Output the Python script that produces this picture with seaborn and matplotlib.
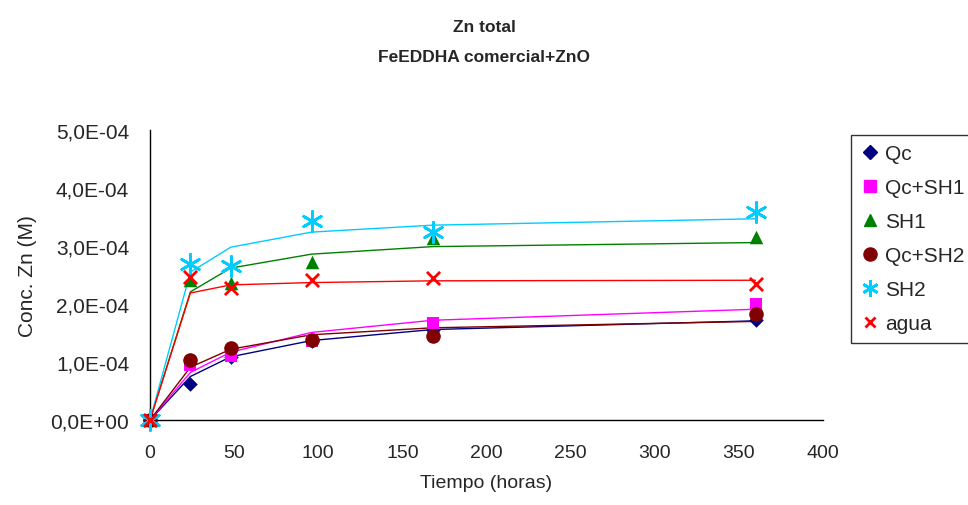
import matplotlib
matplotlib.use("Agg")
import matplotlib.pyplot as plt
from matplotlib.lines import Line2D
from matplotlib.ticker import FuncFormatter, MultipleLocator
import seaborn as sns
import numpy as np

# ---- data ----
series = ["Qc", "Qc+SH1", "SH1", "Qc+SH2", "SH2", "agua"]
hours = [0, 24, 48, 96, 168, 360]

# measured points
pts_qc     = [0, 0.62e-4, 1.08e-4, 1.36e-4, 1.55e-4, 1.72e-4]
pts_qcsh1  = [0, 0.94e-4, 1.10e-4, 1.37e-4, 1.67e-4, 2.00e-4]
pts_sh1    = [0, 2.42e-4, 2.36e-4, 2.73e-4, 3.14e-4, 3.15e-4]
pts_qcsh2  = [0, 1.04e-4, 1.24e-4, 1.38e-4, 1.45e-4, 1.83e-4]
pts_sh2    = [0, 2.69e-4, 2.66e-4, 3.43e-4, 3.24e-4, 3.58e-4]
pts_agua   = [0, 2.46e-4, 2.28e-4, 2.42e-4, 2.45e-4, 2.34e-4]

# fitted curves
fit_qc     = [0, 0.75e-4, 1.09e-4, 1.37e-4, 1.56e-4, 1.71e-4]
fit_qcsh1  = [0, 0.82e-4, 1.17e-4, 1.51e-4, 1.72e-4, 1.91e-4]
fit_sh1    = [0, 2.21e-4, 2.62e-4, 2.86e-4, 2.99e-4, 3.06e-4]
fit_qcsh2  = [0, 0.91e-4, 1.22e-4, 1.47e-4, 1.59e-4, 1.70e-4]
fit_sh2    = [0, 2.55e-4, 2.98e-4, 3.24e-4, 3.36e-4, 3.47e-4]
fit_agua   = [0, 2.19e-4, 2.33e-4, 2.37e-4, 2.40e-4, 2.41e-4]

points = [pts_qc, pts_qcsh1, pts_sh1, pts_qcsh2, pts_sh2, pts_agua]
fits = [fit_qc, fit_qcsh1, fit_sh1, fit_qcsh2, fit_sh2, fit_agua]

colors = ["#000080", "#FF00FF", "#008000", "#800000", "#00CCFF", "#FF0000"]
markers = ["D", "s", "^", "o", (6, 2, 0), "x"]
sizes = [55, 80, 95, 110, 210, 90]

sns.set_style("white")
plt.rcParams["font.family"] = ["Liberation Sans", "DejaVu Sans"]

fig = plt.figure(figsize=(9.68, 5.06), dpi=100)
ax = fig.add_axes([0.155, 0.168, 0.695, 0.573])

for name, ys, fy, c, m, s in zip(series, points, fits, colors, markers, sizes):
    sns.lineplot(x=hours, y=fy, color=c, linewidth=1.0, ax=ax, zorder=2)
    filled = m != "x" and not isinstance(m, tuple)
    if filled:
        sns.scatterplot(x=hours, y=ys, marker=m, color=c, s=s, edgecolor=c,
                        linewidth=0, ax=ax, zorder=3, clip_on=False)
    else:
        sns.scatterplot(x=hours, y=ys, marker=m, color=c, s=s,
                        linewidth=2.0, ax=ax, zorder=3, clip_on=False)

ax.set_xlim(0, 400)
ax.set_ylim(0, 5e-4)
ax.xaxis.set_major_locator(MultipleLocator(50))
ax.yaxis.set_major_locator(MultipleLocator(1e-4))
ax.yaxis.set_major_formatter(FuncFormatter(lambda v, p: f"{v:.1E}".replace(".", ",")))

for sp in ["top", "right"]:
    ax.spines[sp].set_visible(False)
for sp in ["left", "bottom"]:
    ax.spines[sp].set_color("black")
    ax.spines[sp].set_linewidth(1.0)

ax.tick_params(axis="both", direction="out", length=7, width=1, color="#444444")
ax.tick_params(axis="y", labelsize=15, pad=8)
ax.tick_params(axis="x", labelsize=14, pad=10)

ax.set_xlabel("Tiempo (horas)", fontsize=14, labelpad=10)
ax.set_ylabel("Conc. Zn (M)", fontsize=15, labelpad=10)

fig.text(0.5, 1 - 27 / 506, "Zn total", ha="center", va="center",
         fontsize=12.5, fontweight="bold")
fig.text(0.5, 1 - 58 / 506, "FeEDDHA comercial+ZnO", ha="center", va="center",
         fontsize=12.5, fontweight="bold")

handles = []
for name, c, m, s in zip(series, colors, markers, sizes):
    if m == "x" or isinstance(m, tuple):
        h = Line2D([], [], linestyle="none", marker=m, color=c,
                   markersize=np.sqrt(s) * 0.8, markeredgewidth=2.0)
    else:
        h = Line2D([], [], linestyle="none", marker=m, color=c, markeredgecolor=c,
                   markersize=np.sqrt(s) * 0.9)
    handles.append(h)

leg = fig.legend(handles, series, loc="upper left", bbox_to_anchor=(851 / 968, 1 - 136 / 506),
                 frameon=True, fancybox=False, fontsize=15, handlelength=0.9,
                 handletextpad=0.3, labelspacing=0.72, borderpad=0.45,
                 borderaxespad=0)
leg.get_frame().set_edgecolor("black")
leg.get_frame().set_linewidth(1.0)

fig.savefig("out.png", dpi=100)
